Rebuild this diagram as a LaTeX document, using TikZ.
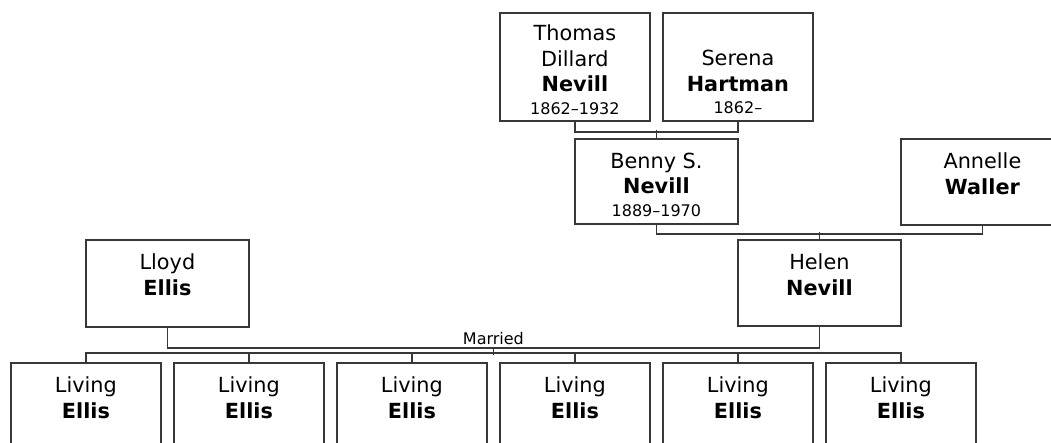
\documentclass[tikz,border=0pt]{standalone}
\usepackage{fontspec}
\setmainfont{DejaVu Sans}
\usetikzlibrary{calc}
\newcommand{\namesize}{\fontsize{20.8}{25.5}\selectfont}
\newcommand{\datesize}{\fontsize{16}{19}\selectfont}
\newcommand{\boxtext}[3][15pt]{\parbox[c][#2][t]{150pt}{\centering\vspace*{#1}#3}}
\begin{document}
\begin{tikzpicture}[
        x=1pt, y=-1pt,
        person/.style={
            rectangle,
            draw=black!78,
            line width=1.8pt,
            fill=white,
            inner sep=0pt,
            minimum width=150pt,
            anchor=north west,
            font=\namesize
        },
        wideperson/.style={person, minimum width=163pt},
        link/.style={draw=black!78, line width=1.8pt}
    ]
    \clip (0,0) rectangle (1051,443);
    % Personas con coordenadas fijas
    \node[person] (thomas) at (499,12) {\boxtext[12pt]{108pt}{Thomas\\Dillard\\\textbf{Nevill}\\[-3pt]{\datesize 1862–1932}}};
    \node[person] (serena) at (662,12) {\boxtext[37.5pt]{108pt}{Serena\\\textbf{Hartman}\\[-3pt]{\datesize 1862–}}};
    \node[wideperson] (benny) at (574,138) {\boxtext[14pt]{85pt}{Benny S.\\\textbf{Nevill}\\[-3pt]{\datesize 1889–1970}}};
    \node[wideperson] (annelle) at (900,138) {\boxtext[14pt]{86pt}{Annelle\\\textbf{Waller}}};
    \node[wideperson] (helen) at (737,239) {\boxtext[14pt]{86pt}{Helen\\\textbf{Nevill}}};
    \node[wideperson] (lloyd) at (85,239) {\boxtext[14pt]{87pt}{Lloyd\\\textbf{Ellis}}};
    \foreach \i in {1,...,6}
        \node[person] (child\i) at ({10+163*(\i-1)},362) {\boxtext[14pt]{86pt}{Living\\\textbf{Ellis}}};

    % Uniones
    \draw[link] (thomas.south) -- ++(0,10) -| (serena.south);
    \draw[link] (benny.north) -- ++(0,-8);
    \draw[link] (benny.south) -- ++(0,9) -| (annelle.south);
    \draw[link] (helen.north) -- ++(0,-7);
    \draw[link] (lloyd.south) -- ++(0,20) -| (helen.south);
    \coordinate (wed) at ($(lloyd.south)!0.5!(helen.south)+(0,20.5)$);
    \node[above=2pt, inner sep=1pt, font=\fontsize{16}{18}\selectfont] (married) at (wed) {Married};
    \draw[link] (wed) -- ++(0,7);
    \draw[link] (child1.north) -- ++(0,-9) -| (child6.north);
    \foreach \i in {2,...,5}
        \draw[link] (child\i.north) -- ++(0,-9);
\end{tikzpicture}
\end{document}
